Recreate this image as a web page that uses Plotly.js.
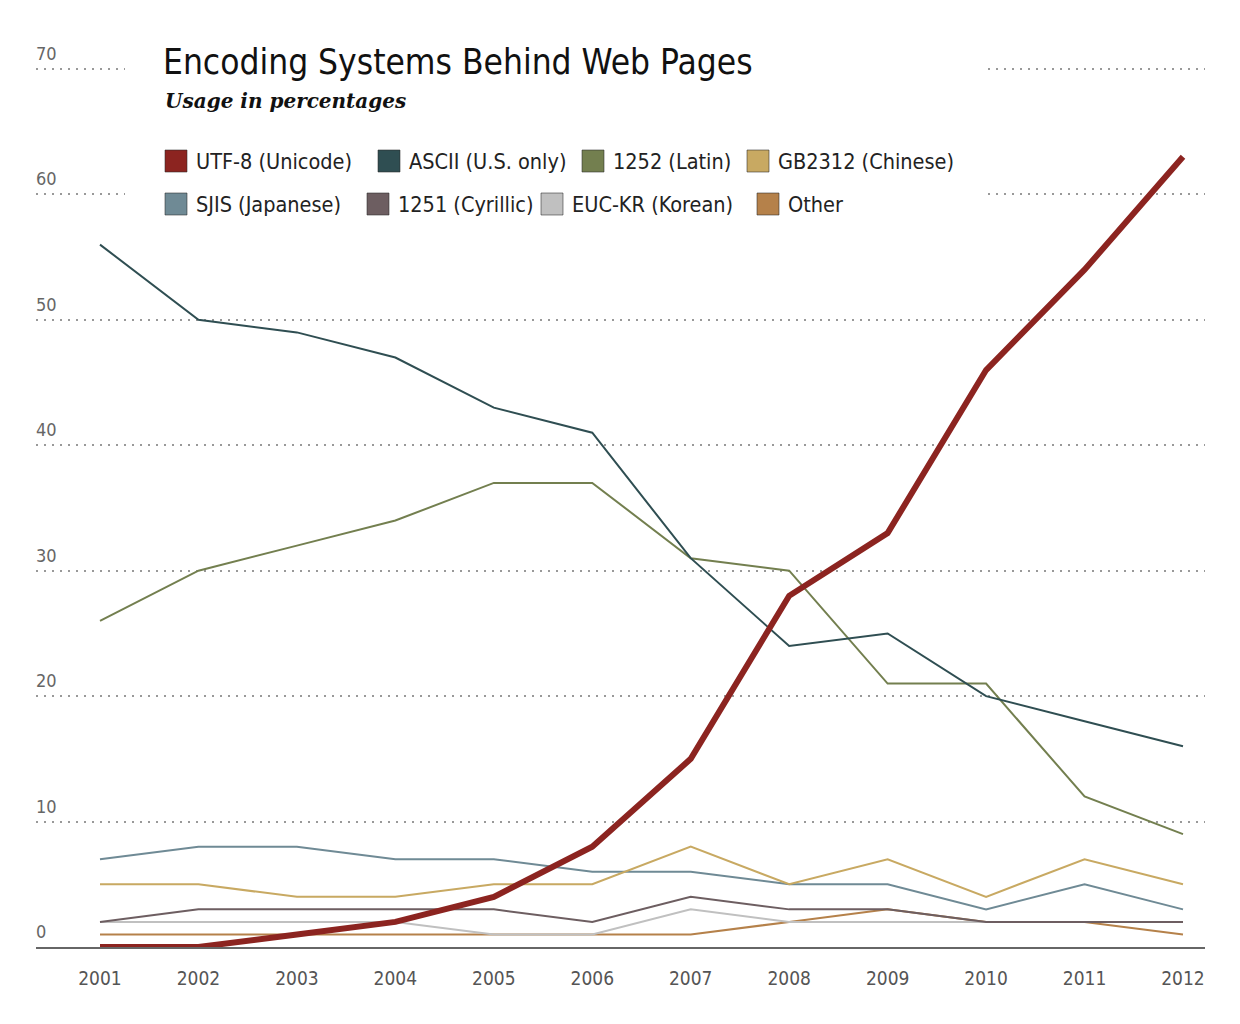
<!DOCTYPE html>
<html>
<head>
<meta charset="utf-8">
<script src="https://cdn.plot.ly/plotly-3.0.1.min.js"></script>
<style>html,body{margin:0;padding:0;background:#fff;}#chart{width:1240px;height:1024px;}</style>
</head>
<body>
<div id="chart"></div>
<script>
// ---- data ----
const years = [2001, 2002, 2003, 2004, 2005, 2006, 2007, 2008, 2009, 2010, 2011, 2012];
const utf8   = [0, 0, 1, 2, 4, 8, 15, 28, 33, 46, 54, 63];
const ascii  = [56, 50, 49, 47, 43, 41, 31, 24, 25, 20, 18, 16];
const latin  = [26, 30, 32, 34, 37, 37, 31, 30, 21, 21, 12, 9];
const gb2312 = [5, 5, 4, 4, 5, 5, 8, 5, 7, 4, 7, 5];
const sjis   = [7, 8, 8, 7, 7, 6, 6, 5, 5, 3, 5, 3];
const cyr    = [2, 3, 3, 3, 3, 2, 4, 3, 3, 2, 2, 2];
const euckr  = [2, 2, 2, 2, 1, 1, 3, 2, 2, 2, 2, 2];
const other  = [1, 1, 1, 1, 1, 1, 1, 2, 3, 2, 2, 1];
const seriesNames = ["UTF-8 (Unicode)", "ASCII (U.S. only)", "1252 (Latin)", "GB2312 (Chinese)",
                     "SJIS (Japanese)", "1251 (Cyrillic)", "EUC-KR (Korean)", "Other"];
const yTicks = [0, 10, 20, 30, 40, 50, 60, 70];
const titleText = "Encoding Systems Behind Web Pages";
const subtitleText = "Usage in percentages";

// ---- styles ----
const colors = ["#8c2420", "#2f4e52", "#737f4f", "#c8a962", "#6f8a95", "#6d5e61", "#c0c0c0", "#b5814a"];
const values = [utf8, ascii, latin, gb2312, sjis, cyr, euckr, other];
const COND = "'DejaVu Sans Condensed', 'Liberation Sans Narrow', sans-serif";

// pixel helpers (plot area: x 36..1205, y 65..947; value 70 at y=69)
const L = 36, R = 1205, T = 65, B = 947;
const YMAX = 70 * (B - T) / (B - 69);
const px = p => (p - L) / (R - L);
const py = p => (B - p) / (B - T);

// draw order: thin lines first, UTF-8 on top
const order = [7, 6, 5, 4, 3, 2, 1, 0];
const traces = order.map(i => ({
  type: "scatter", mode: "lines", x: years, y: values[i], name: seriesNames[i],
  line: {color: colors[i], width: i === 0 ? 6 : 2, shape: "linear"},
  showlegend: false, hoverinfo: "x+y+name"
}));

// legend (custom squares + labels)
const legendSwatchX = [165, 378, 582, 747, 165, 367, 541, 757];
const legendRowY = [161, 204];
const shapes = [{
  type: "rect", xref: "paper", yref: "paper", layer: "above",
  x0: px(125), x1: px(985), y0: py(228), y1: py(36),
  fillcolor: "#ffffff", line: {width: 0}
}];
const annotations = [];
seriesNames.forEach((n, i) => {
  const cy = legendRowY[i < 4 ? 0 : 1];
  const sx = legendSwatchX[i];
  shapes.push({
    type: "rect", xref: "paper", yref: "paper", layer: "above",
    x0: px(sx), x1: px(sx + 22), y0: py(cy + 11), y1: py(cy - 11),
    fillcolor: colors[i], line: {color: "rgba(40,40,40,0.55)", width: 1}
  });
  annotations.push({
    xref: "paper", yref: "paper", x: px(sx + 29), y: py(cy), xanchor: "left", yanchor: "middle",
    text: n, showarrow: false, font: {family: COND, size: 21.5, color: "#222"}
  });
});
// y tick labels above gridlines
yTicks.forEach(v => {
  annotations.push({
    xref: "paper", yref: "y", x: 0, y: v, xanchor: "left", yanchor: "bottom", yshift: 3, xshift: -2,
    text: String(v), showarrow: false, font: {family: COND, size: 18, color: "#666"}
  });
});
// subtitle
annotations.push({
  xref: "paper", yref: "paper", x: px(163), y: py(101), xanchor: "left", yanchor: "middle",
  text: "<b><i>" + subtitleText + "</i></b>", showarrow: false,
  font: {family: "'DejaVu Serif', 'Liberation Serif', serif", size: 20, color: "#111"}
});

const layout = {
  width: 1240, height: 1024,
  margin: {l: L, r: 1240 - R, t: T, b: 1024 - B, pad: 0},
  paper_bgcolor: "#fff", plot_bgcolor: "#fff",
  showlegend: false,
  title: {
    text: titleText, xref: "container", yref: "container",
    x: 163 / 1240, xanchor: "left", y: 1 - 62 / 1024, yanchor: "middle",
    font: {family: COND, size: 35, color: "#111"}
  },
  xaxis: {
    range: [2001 - 64 / 98.46, 2012 + 22 / 98.46],
    tickvals: years, ticktext: years.map(String),
    showgrid: false, zeroline: false,
    showline: true, linecolor: "#666", linewidth: 1.5,
    ticks: "", ticklabelstandoff: 14,
    tickfont: {family: COND, size: 19, color: "#555"}
  },
  yaxis: {
    range: [0, YMAX], tickvals: yTicks, showticklabels: false,
    showgrid: true, gridcolor: "#999999", gridwidth: 2, griddash: "2px,6px",
    zeroline: false, showline: false, ticks: ""
  },
  shapes: shapes,
  annotations: annotations
};

Plotly.newPlot("chart", traces, layout, {displayModeBar: false, staticPlot: true});
</script>
</body>
</html>
